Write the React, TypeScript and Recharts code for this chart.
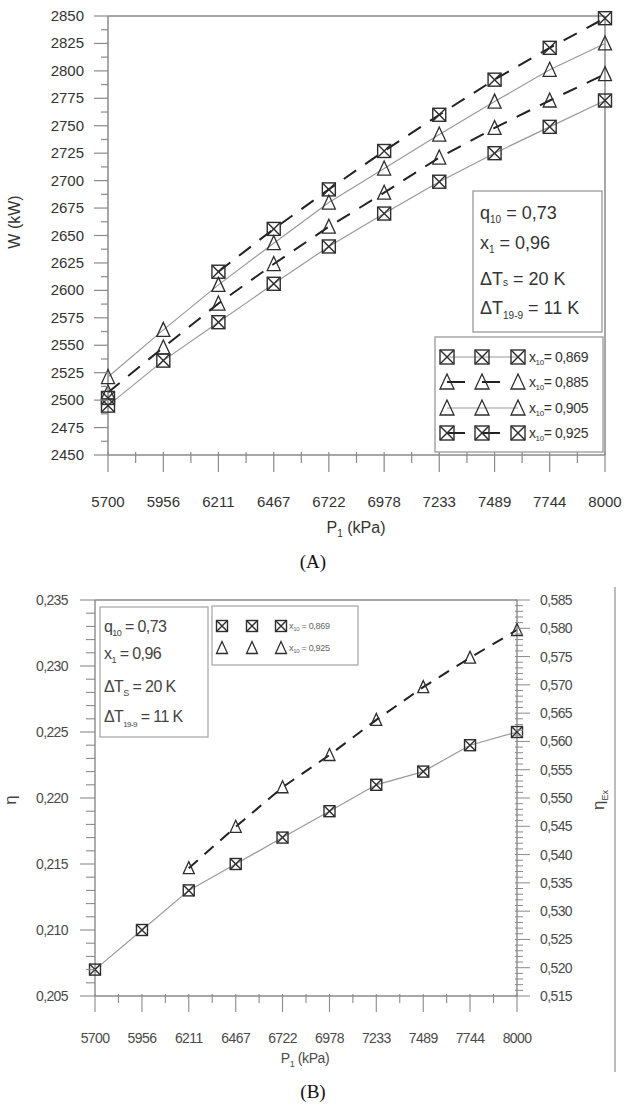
import { LineChart, Line, XAxis, YAxis, ReferenceLine } from 'recharts'

// pressure P1 (kPa), equally spaced categories
const pressures = [5700, 5956, 6211, 6467, 6722, 6978, 7233, 7489, 7744, 8000]

// (A) power W (kW) for each x10
const w869 = [2495, 2536, 2571, 2606, 2640, 2670, 2699, 2725, 2749, 2773]
const w885 = [2507, 2548, 2588, 2624, 2658, 2689, 2721, 2748, 2773, 2797]
const w905 = [2521, 2564, 2605, 2643, 2680, 2711, 2742, 2772, 2801, 2825]
const w925 = [2502, null, 2617, 2656, 2692, 2727, 2760, 2792, 2821, 2848]

// (B) efficiencies
const eta869 = [0.207, 0.21, 0.213, 0.215, 0.217, 0.219, 0.221, 0.222, 0.224, 0.225]
const etaEx925 = [null, null, 0.5376, 0.5449, 0.5519, 0.5576, 0.5638, 0.5696, 0.5748, 0.5797]

const FONT = 'Liberation Sans, Arial, sans-serif'
const GRID = '#8a8a8a'
const INK = '#2e2e2e'

const dataA = pressures.map((p, i) => ({ p, w869: w869[i], w885: w885[i], w905: w905[i], w925: w925[i] }))
const dataB = pressures.map((p, i) => ({ p, eta: eta869[i], etaEx: etaEx925[i] }))

// major ticks on categories plus a minor tick half way between
const pTicks: number[] = []
pressures.forEach((p, i) => {
	pTicks.push(p)
	if (i < pressures.length - 1) pTicks.push((p + pressures[i + 1]) / 2)
})
const wTicks = Array.from({ length: 33 }, (_, k) => 2450 + k * 12.5)
const etaTicks = Array.from({ length: 31 }, (_, k) => (205 + k) / 1000)
const exTicks = Array.from({ length: 71 }, (_, k) => (515 + k) / 1000)

const comma = (v: number) => v.toFixed(3).replace('.', ',')

function SquareX({ cx, cy, s }: { cx: number; cy: number; s: number }) {
	const h = s / 2
	return (
		<g stroke={INK} strokeWidth={1.4} fill="none">
			<rect x={cx - h} y={cy - h} width={s} height={s} fill="rgba(255,255,255,0.01)" />
			<line x1={cx - h} y1={cy - h} x2={cx + h} y2={cy + h} />
			<line x1={cx + h} y1={cy - h} x2={cx - h} y2={cy + h} />
		</g>
	)
}

function Tri({ cx, cy, s }: { cx: number; cy: number; s: number }) {
	const h = s / 2
	return (
		<polygon
			points={`${cx},${cy - h - 1} ${cx - h},${cy + h} ${cx + h},${cy + h}`}
			stroke={INK}
			strokeWidth={1.3}
			fill="none"
		/>
	)
}

function dotOf(kind: 'sq' | 'tri', s: number) {
	return (props: any) => {
		const { cx, cy, value, index } = props
		if (value == null || cx == null || cy == null) return <g key={`n${index}`} />
		return (
			<g key={`d${index}`}>{kind === 'sq' ? <SquareX cx={cx} cy={cy} s={s} /> : <Tri cx={cx} cy={cy} s={s} />}</g>
		)
	}
}

function WTick({ x, y, payload }: any) {
	const v = payload.value
	const major = v % 25 === 0
	return (
		<g>
			<line x1={x - (major ? 14 : 7)} x2={x} y1={y} y2={y} stroke={GRID} strokeWidth={1.2} />
			{major && (
				<text x={x - 24} y={y + 5} textAnchor="end" fontSize={15} fill="#333" fontFamily={FONT}>
					{v}
				</text>
			)}
		</g>
	)
}

function PTickA({ x, y, payload }: any) {
	const major = pressures.includes(payload.value)
	return (
		<g>
			<line x1={x} x2={x} y1={y - 3} y2={y + (major ? 17 : 8)} stroke={GRID} strokeWidth={1.2} />
			{major && (
				<text x={x} y={y + 52} textAnchor="middle" fontSize={15} fill="#333" fontFamily={FONT}>
					{payload.value}
				</text>
			)}
		</g>
	)
}

function PTickB({ x, y, payload }: any) {
	const major = pressures.includes(payload.value)
	return (
		<g>
			<line x1={x} x2={x} y1={y - 2} y2={y + (major ? 16 : 7)} stroke={GRID} strokeWidth={1.1} />
			{major && (
				<text x={x} y={y + 47} textAnchor="middle" fontSize={14} letterSpacing={-0.6} fill="#4a4a4a" fontFamily={FONT}>
					{payload.value}
				</text>
			)}
		</g>
	)
}

function EtaTick({ x, y, payload }: any) {
	const v = payload.value
	const major = Math.round(v * 1000) % 5 === 0
	return (
		<g>
			<line x1={x - (major ? 15 : 9)} x2={x} y1={y} y2={y} stroke={GRID} strokeWidth={1.1} />
			{major && (
				<text x={x - 27} y={y + 5} textAnchor="end" fontSize={14} letterSpacing={-0.6} fill="#4a4a4a" fontFamily={FONT}>
					{comma(v)}
				</text>
			)}
		</g>
	)
}

function ExTick({ x, y, payload }: any) {
	const v = payload.value
	const major = Math.round(v * 1000) % 5 === 0
	return (
		<g>
			<line x1={x - 2} x2={x + (major ? 13 : 6)} y1={y} y2={y} stroke={GRID} strokeWidth={1} />
			{major && (
				<text x={x + 23} y={y + 5} textAnchor="start" fontSize={14} letterSpacing={-0.6} fill="#4a4a4a" fontFamily={FONT}>
					{comma(v)}
				</text>
			)}
		</g>
	)
}

function Overlay() {
	const legA = [
		{ kind: 'sq', label: '0,869', dash: false },
		{ kind: 'tri', label: '0,885', dash: true },
		{ kind: 'tri', label: '0,905', dash: false },
		{ kind: 'sq', label: '0,925', dash: true },
	]
	const rowsA = [357, 382, 408, 433]
	const mxA = [447, 482, 518]
	return (
		<svg width={627} height={1109} style={{ position: 'absolute', left: 0, top: 0, pointerEvents: 'none' }} fontFamily={FONT}>
			{/* (A) titles */}
			<text x={20} y={222} transform="rotate(-90 20 222)" textAnchor="middle" fontSize={16} fill="#333">
				W (kW)
			</text>
			<text x={356} y={533} textAnchor="middle" fontSize={16} fill="#333">
				P<tspan fontSize={10} dy={4}>1</tspan>
				<tspan dy={-4}> (kPa)</tspan>
			</text>
			<text x={313} y={568} textAnchor="middle" fontSize={19} fill="#111" fontFamily="Liberation Serif, serif">
				(A)
			</text>

			{/* (A) parameters */}
			<rect x={473} y={191} width={129} height={141} fill="#fff" stroke="#999" strokeWidth={1.3} />
			<g fontSize={18} fill="#333">
				<text x={480} y={219}>
					q<tspan fontSize={10} dy={4}>10</tspan>
					<tspan dy={-4}> = 0,73</tspan>
				</text>
				<text x={480} y={249}>
					x<tspan fontSize={10} dy={4}>1</tspan>
					<tspan dy={-4}> = 0,96</tspan>
				</text>
				<text x={480} y={285}>
					ΔT<tspan fontSize={10} dy={1}>s</tspan>
					<tspan dy={-1}> = 20 K</tspan>
				</text>
				<text x={480} y={314}>
					ΔT<tspan fontSize={10} dy={5}>19-9</tspan>
					<tspan dy={-5}> = 11 K</tspan>
				</text>
			</g>

			{/* (A) legend */}
			<rect x={435} y={337} width={168} height={115} fill="#fff" stroke="#999" strokeWidth={1.3} />
			{legA.map((l, r) => (
				<g key={l.label}>
					{l.dash ? (
						<>
							<line x1={mxA[0]} x2={mxA[0] + 18} y1={rowsA[r]} y2={rowsA[r]} stroke="#222" strokeWidth={2} />
							<line x1={mxA[1]} x2={mxA[1] + 18} y1={rowsA[r]} y2={rowsA[r]} stroke="#222" strokeWidth={2} />
						</>
					) : (
						<line x1={mxA[0]} x2={mxA[2]} y1={rowsA[r]} y2={rowsA[r]} stroke="#999" strokeWidth={1.2} />
					)}
					{mxA.map(mx =>
						l.kind === 'sq' ? (
							<SquareX key={mx} cx={mx} cy={rowsA[r]} s={14} />
						) : (
							<Tri key={mx} cx={mx} cy={rowsA[r]} s={14} />
						)
					)}
					<text x={529} y={rowsA[r] + 5} fontSize={14} letterSpacing={-0.4} fill="#333">
						x<tspan fontSize={8} dy={3}>10</tspan>
						<tspan dy={-3}>= {l.label}</tspan>
					</text>
				</g>
			))}

			{/* (B) titles */}
			<text x={16} y={800} transform="rotate(-90 16 800)" textAnchor="middle" fontSize={17} fill="#444">
				η
			</text>
			<text x={604} y={800} transform="rotate(-90 604 800)" textAnchor="middle" fontSize={17} fill="#444">
				η<tspan fontSize={9} dy={4}>Ex</tspan>
			</text>
			<line x1={615} x2={615} y1={587} y2={1072} stroke="#999" strokeWidth={1.3} />
			<text x={305} y={1063} textAnchor="middle" fontSize={14} letterSpacing={-0.4} fill="#4a4a4a">
				P<tspan fontSize={9} dy={4}>1</tspan>
				<tspan dy={-4}> (kPa)</tspan>
			</text>
			<text x={313} y={1098} textAnchor="middle" fontSize={19} fill="#111" fontFamily="Liberation Serif, serif">
				(B)
			</text>

			{/* (B) parameters */}
			<rect x={100} y={607} width={108} height={130} fill="#fff" stroke="#aaa" strokeWidth={1.3} />
			<g fontSize={16} letterSpacing={-0.6} fill="#444">
				<text x={104} y={632}>
					q<tspan fontSize={9} dy={4}>10</tspan>
					<tspan dy={-4}> = 0,73</tspan>
				</text>
				<text x={104} y={659}>
					x<tspan fontSize={9} dy={4}>1</tspan>
					<tspan dy={-4}> = 0,96</tspan>
				</text>
				<text x={104} y={692}>
					ΔT<tspan fontSize={9} dy={4}>S</tspan>
					<tspan dy={-4}> = 20 K</tspan>
				</text>
				<text x={104} y={722}>
					ΔT<tspan fontSize={8} dy={5}>19-9</tspan>
					<tspan dy={-5}> = 11 K</tspan>
				</text>
			</g>

			{/* (B) legend */}
			<rect x={212} y={606} width={146} height={59} fill="#fff" stroke="#aaa" strokeWidth={1.3} />
			{[
				{ kind: 'sq', label: '0,869', y: 626 },
				{ kind: 'tri', label: '0,925', y: 648 },
			].map(l => (
				<g key={l.label}>
					{[222, 252, 281].map(mx =>
						l.kind === 'sq' ? (
							<SquareX key={mx} cx={mx} cy={l.y} s={11} />
						) : (
							<Tri key={mx} cx={mx} cy={l.y} s={11} />
						)
					)}
					<text x={289} y={l.y + 3} fontSize={9} letterSpacing={-0.3} fill="#666">
						x<tspan fontSize={6} dy={2}>10</tspan>
						<tspan dy={-2}> = {l.label}</tspan>
					</text>
				</g>
			))}
		</svg>
	)
}

export default function App() {
	return (
		<div style={{ position: 'absolute', left: 0, top: 0, width: 627, height: 1109, background: '#fff' }}>
			<div style={{ position: 'absolute', left: 0, top: 0 }}>
				<LineChart width={627} height={540} data={dataA} margin={{ top: 16, right: 22, bottom: 25, left: 0 }}>
					<XAxis
						dataKey="p"
						type="number"
						domain={[5700, 8000]}
						ticks={pTicks}
						interval={0}
						tickSize={0}
						tickMargin={0}
						tickLine={false}
						tick={<PTickA />}
						height={60}
						axisLine={{ stroke: GRID, strokeWidth: 1.5 }}
					/>
					<YAxis
						type="number"
						domain={[2450, 2850]}
						ticks={wTicks}
						interval={0}
						tickSize={0}
						tickMargin={0}
						tickLine={false}
						tick={<WTick />}
						width={108}
						axisLine={{ stroke: GRID, strokeWidth: 1.5 }}
					/>
					<ReferenceLine y={2850} stroke={GRID} strokeWidth={1.5} />
					<ReferenceLine x={8000} stroke={GRID} strokeWidth={1.5} />
					<Line dataKey="w869" stroke="#999" strokeWidth={1.2} dot={dotOf('sq', 13)} activeDot={false} isAnimationActive={false} />
					<Line dataKey="w885" stroke="#222" strokeWidth={2} strokeDasharray="15 11" dot={dotOf('tri', 13)} activeDot={false} isAnimationActive={false} />
					<Line dataKey="w905" stroke="#999" strokeWidth={1.2} dot={dotOf('tri', 13)} activeDot={false} isAnimationActive={false} />
					<Line dataKey="w925" stroke="#222" strokeWidth={2} strokeDasharray="15 11" dot={dotOf('sq', 13)} activeDot={false} isAnimationActive={false} />
				</LineChart>
			</div>
			<div style={{ position: 'absolute', left: 0, top: 560 }}>
				<LineChart width={627} height={520} data={dataB} margin={{ top: 40, right: 10, bottom: 24, left: 0 }}>
					<XAxis
						dataKey="p"
						type="number"
						domain={[5700, 8000]}
						ticks={pTicks}
						interval={0}
						tickSize={0}
						tickMargin={0}
						tickLine={false}
						tick={<PTickB />}
						height={60}
						axisLine={{ stroke: GRID, strokeWidth: 1.4 }}
					/>
					<YAxis
						yAxisId="left"
						type="number"
						domain={[0.205, 0.235]}
						ticks={etaTicks}
						interval={0}
						tickSize={0}
						tickMargin={0}
						tickLine={false}
						tick={<EtaTick />}
						width={95}
						axisLine={{ stroke: GRID, strokeWidth: 1.4 }}
					/>
					<YAxis
						yAxisId="right"
						orientation="right"
						type="number"
						domain={[0.515, 0.585]}
						ticks={exTicks}
						interval={0}
						tickSize={0}
						tickMargin={0}
						tickLine={false}
						tick={<ExTick />}
						width={100}
						axisLine={{ stroke: GRID, strokeWidth: 1.4 }}
					/>
					<ReferenceLine yAxisId="left" y={0.235} stroke={GRID} strokeWidth={1.4} />
					<Line yAxisId="left" dataKey="eta" stroke="#999" strokeWidth={1.2} dot={dotOf('sq', 11)} activeDot={false} isAnimationActive={false} />
					<Line yAxisId="right" dataKey="etaEx" stroke="#222" strokeWidth={2} strokeDasharray="12 9" dot={dotOf('tri', 11)} activeDot={false} isAnimationActive={false} />
				</LineChart>
			</div>
			<Overlay />
		</div>
	)
}
